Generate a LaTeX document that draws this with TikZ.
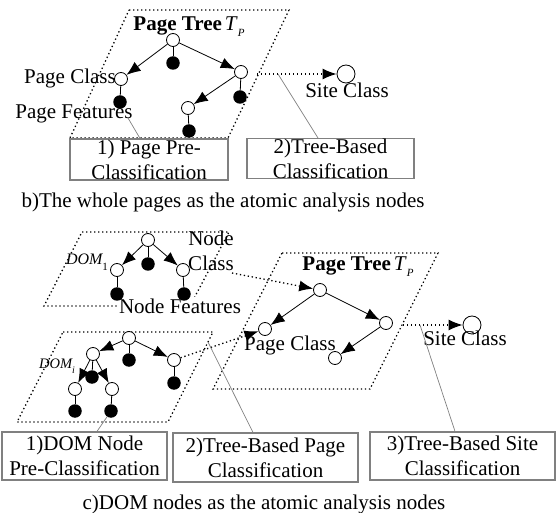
\documentclass[tikz,border=0pt]{standalone}
\usepackage{fontspec}
\setmainfont{Liberation Serif}
\usetikzlibrary{arrows.meta}
\tikzset{
  opn/.style={circle,draw,fill=white,minimum size=13pt,inner sep=0pt,line width=0.8pt},
  ful/.style={circle,fill=black,minimum size=13.5pt,inner sep=0pt},
  big/.style={circle,draw,fill=white,minimum size=18pt,inner sep=0pt,line width=0.8pt},
  arr/.style={line width=0.8pt,-{Latex[length=14pt,width=11pt]}},
  stem/.style={line width=0.8pt},
  dots/.style={line width=1.3pt,dash pattern=on 1.3pt off 2.7pt},
  dotarr/.style={dots,-{Latex[length=14pt,width=11pt]}},
  lead/.style={draw=gray,line width=0.7pt},
  txt/.style={font=\fontsize{21}{25}\selectfont,inner sep=0pt},
  box/.style={txt,draw=gray,line width=1.2pt,align=center},
}
\newcommand{\treetitle}{{\bfseries Page Tree}\hspace{3pt}\textit{T}\raisebox{-6pt}{\fontsize{11}{11}\selectfont\itshape P}}
\begin{document}
\begin{tikzpicture}[x=1pt,y=-1pt]
\useasboundingbox (0,0) rectangle (560,513);

% ---------- b) whole pages ----------
\draw[dots] (129,10) -- (289,10) -- (228,138) -- (70,138) -- cycle;
\node[txt,anchor=base] (tt1) at (189,31) {\treetitle};
\node[txt,anchor=base] (pc1) at (70,84) {Page Class};
\node[txt,anchor=base] (pf1) at (74,119) {Page Features};

\node[opn] (r1) at (173,40) {};
\node[ful] (r1f) at (173,63) {};
\node[opn] (a1) at (121,79) {};
\node[ful] (a1f) at (120,102) {};
\node[opn] (b1) at (241,72) {};
\node[ful] (b1f) at (240,97) {};
\node[opn] (c1) at (188,108) {};
\node[ful] (c1f) at (189,131) {};
\draw[stem] (r1) -- (r1f);
\draw[stem] (a1) -- (a1f);
\draw[stem] (b1) -- (b1f);
\draw[stem] (c1) -- (c1f);
\draw[arr] (r1) -- (a1);
\draw[arr] (r1) -- (b1);
\draw[arr] (b1) -- (c1);

\node[box,minimum width=158pt,minimum height=41pt] (bx1) at (149,159.5) {1) Page Pre-\\Classification};
\node[box,minimum width=167pt,minimum height=39pt] (bx2) at (330.5,158.5) {2)Tree-Based\\Classification};

\node[big] (sc1) at (346,74) {};
\node[txt,anchor=base] (sct1) at (347,98) {Site Class};
\coordinate (s1o) at (257,74);
\coordinate (s1l) at (278,74);
\coordinate (pf1e) at (128,118);
\draw[dotarr] (s1o) -- (sc1);
\draw[lead] (s1l) -- ([xshift=-12.5pt]bx2.north);
\draw[lead] (pf1e) -- ([xshift=-9pt]bx1.north);

\node[txt,anchor=base] (capb) at (223,208) {b)The whole pages as the atomic analysis nodes};

% ---------- c) DOM nodes ----------
% DOM tree 1
\draw[dots] (82,232) -- (229,232) -- (190,306) -- (44,306) -- cycle;
\node[anchor=base,inner sep=0pt] (dl1) at (87,265) {{\fontsize{16}{16}\selectfont\itshape DOM}\raisebox{-6pt}{\fontsize{11}{11}\selectfont 1}};
\node[txt,align=center] (nc) at (211,251) {Node\\Class};
\node[txt,anchor=base,fill=white,inner sep=1pt] (nf) at (180,313) {Node Features};
\node[opn] (d1r) at (148,240) {};
\node[ful] (d1m) at (148,264) {};
\node[opn] (d1a) at (117,270) {};
\node[opn] (d1b) at (183,270) {};
\node[ful] (d1af) at (117,294) {};
\node[ful] (d1bf) at (184,294) {};
\draw[stem] (d1r) -- (d1m);
\draw[stem] (d1a) -- (d1af);
\draw[stem] (d1b) -- (d1bf);
\draw[arr] (d1r) -- (d1a);
\draw[arr] (d1r) -- (d1b);

% page tree
\draw[dots] (282,253) -- (438,253) -- (370,389) -- (213,389) -- cycle;
\node[txt,anchor=base] (tt2) at (358,271) {\treetitle};
\node[txt,anchor=base] (pc2) at (290,351) {Page Class};
\node[opn] (p2r) at (320,290) {};
\node[opn] (p2a) at (265,329) {};
\node[opn] (p2b) at (386,323) {};
\node[opn] (p2c) at (335,358) {};
\draw[arr] (p2r) -- (p2a);
\draw[arr] (p2r) -- (p2b);
\draw[arr] (p2b) -- (p2c);
\coordinate (ncx) at (232,273);
\draw[dotarr] (ncx) -- (p2r);

\node[big] (sc2) at (472,325) {};
\node[txt,anchor=base] (sct2) at (465,345) {Site Class};
\coordinate (s2o) at (403,325);
\coordinate (s2l) at (420,325);
\draw[dotarr] (s2o) -- (sc2);

% DOM tree i
\draw[dots] (63,332) -- (213,332) -- (168,422) -- (17,422) -- cycle;
\node[anchor=base,inner sep=0pt] (dl2) at (57,368) {{\fontsize{14.5}{15}\selectfont\itshape DOM}\raisebox{-5pt}{\fontsize{10}{10}\selectfont\itshape i}};
\node[opn] (q0) at (129,338) {};
\node[opn] (q1) at (93,354) {};
\node[ful] (qm) at (129,360) {};
\node[opn] (q2) at (174,360) {};
\node[ful] (q2f) at (174,383) {};
\node[ful] (q1m) at (92,377) {};
\node[opn] (q3) at (75,389) {};
\node[opn] (q4) at (112,389) {};
\node[ful] (q3f) at (75,411) {};
\node[ful] (q4f) at (111,411) {};
\draw[stem] (q0) -- (qm);
\draw[stem] (q2) -- (q2f);
\draw[stem] (q1) -- (q1m);
\draw[stem] (q3) -- (q3f);
\draw[stem] (q4) -- (q4f);
\draw[arr] (q0) -- (q1);
\draw[arr] (q0) -- (q2);
\draw[arr] (q1) -- (q3);
\draw[arr] (q1) -- (q4);
\draw[dotarr] (q2) -- (p2a);

% step boxes
\node[box,minimum width=165pt,minimum height=48pt] (bx3) at (84.5,456) {1)DOM Node\\Pre-Classification};
\node[box,minimum width=185pt,minimum height=49pt] (bx4) at (265.5,457.5) {2)Tree-Based Page\\Classification};
\node[box,minimum width=185pt,minimum height=48pt] (bx5) at (462.5,456) {3)Tree-Based Site\\Classification};
\coordinate (q5) at (208,342);
\draw[lead] (q4f) -- ([xshift=12.5pt]bx3.north);
\draw[lead] (q5) -- ([xshift=-12.5pt]bx4.north);
\draw[lead] (s2l) -- ([xshift=-7.5pt]bx5.north);

\node[txt,anchor=base] (capc) at (264,509) {c)DOM nodes as the atomic analysis nodes};
\end{tikzpicture}
\end{document}
